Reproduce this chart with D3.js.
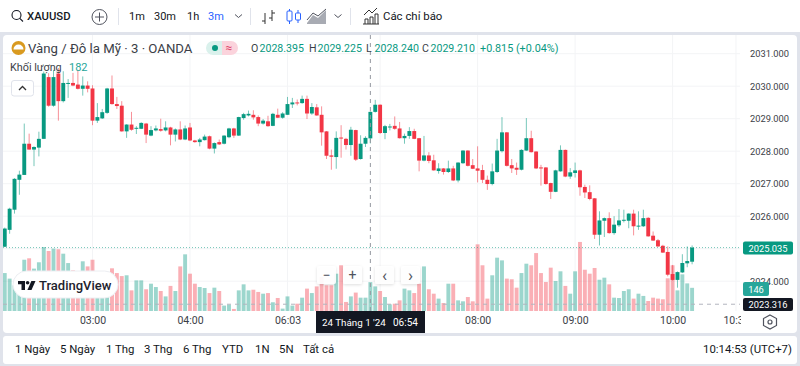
<!DOCTYPE html>
<html>
<head>
<meta charset="utf-8">
<script src="https://cdn.jsdelivr.net/npm/d3@7"></script>
<style>
  html, body { margin: 0; padding: 0; background: #fff; }
  svg { display: block; font-family: Roboto, "Liberation Sans", sans-serif; }
  .tick text { font-family: Roboto, "Liberation Sans", sans-serif; }
</style>
</head>
<body>
<div id="chart"></div>
<script>
// 3 minute candles, first one sits 18 bars before the 03:00 tick
const firstBar = -18;

const opens = [
  2025.06, 2025.58, 2026.20, 2027.12, 2027.27, 2028.23, 2028.05, 2028.11, 2028.38, 2030.28, 2029.40, 2030.39,
  2029.54, 2030.08, 2030.10, 2030.05, 2029.92, 2030.02,
  2029.93, 2028.94, 2029.01, 2029.18, 2029.93, 2029.45, 2029.40, 2028.61, 2028.82, 2028.69, 2028.69, 2028.85,
  2028.48, 2028.64, 2028.68, 2028.64, 2028.73, 2028.51, 2028.67, 2028.36,
  2028.73, 2028.33, 2028.28, 2028.34, 2028.46, 2028.08, 2028.28, 2028.23, 2028.43, 2028.70, 2028.48, 2029.02,
  2029.10, 2029.12, 2029.05, 2028.85, 2028.92, 2028.78, 2029.12, 2029.03,
  2029.12, 2029.44, 2029.50, 2029.48, 2029.61, 2029.16, 2029.35, 2029.12, 2028.61, 2027.87, 2027.82, 2028.42,
  2028.38, 2028.19, 2028.65, 2027.76, 2028.23, 2028.395, 2029.21, 2029.43, 2028.56,
  2028.74, 2028.78, 2028.70, 2028.40, 2028.47, 2028.62, 2028.40, 2027.71, 2027.87, 2027.72, 2027.39, 2027.47,
  2027.36, 2027.47, 2027.10, 2027.63, 2028.02, 2027.57, 2027.47,
  2027.42, 2027.12, 2026.99, 2027.36, 2028.00, 2028.58, 2027.57, 2027.49, 2027.43, 2028.02, 2028.40, 2027.99,
  2027.50, 2027.50, 2027.02, 2026.75, 2027.38, 2028.04, 2027.22, 2027.33,
  2027.41, 2026.90, 2026.74, 2026.55, 2025.43, 2025.86, 2025.94, 2025.48, 2025.72, 2025.86, 2025.86, 2026.08,
  2025.69, 2025.69, 2025.95, 2025.40, 2025.26, 2025.09, 2024.90, 2024.22, 2024.04, 2024.27, 2024.55, 2024.60
];
const highs = [
  2025.65, 2026.26, 2027.17, 2027.40, 2028.85, 2028.54, 2028.15, 2028.60, 2030.45, 2030.40, 2030.50, 2030.56,
  2030.46, 2030.22, 2030.41, 2030.50, 2030.30, 2030.15,
  2030.03, 2029.48, 2029.30, 2029.95, 2030.33, 2029.67, 2029.54, 2028.83, 2029.21, 2028.77, 2028.89, 2028.87,
  2028.77, 2028.79, 2029.00, 2028.92, 2028.75, 2028.70, 2028.92, 2028.79,
  2028.87, 2028.35, 2028.41, 2028.51, 2028.48, 2028.27, 2028.36, 2028.49, 2028.72, 2028.72, 2029.06, 2029.18,
  2029.25, 2029.26, 2029.10, 2028.99, 2029.09, 2029.18, 2029.31, 2029.20,
  2029.67, 2029.64, 2029.59, 2029.71, 2029.71, 2029.48, 2029.45, 2029.38, 2028.62, 2028.05, 2028.61, 2028.80,
  2028.41, 2028.75, 2028.66, 2028.49, 2028.46, 2029.225, 2029.58, 2029.44, 2028.81,
  2028.84, 2029.07, 2028.90, 2028.54, 2028.74, 2028.69, 2028.41, 2028.47, 2027.97, 2027.89, 2027.63, 2027.48,
  2027.71, 2027.55, 2027.66, 2028.03, 2028.03, 2027.76, 2028.15,
  2027.58, 2027.25, 2027.62, 2028.38, 2029.05, 2028.59, 2027.76, 2027.65, 2028.06, 2029.02, 2028.63, 2028.00,
  2027.58, 2027.51, 2027.03, 2027.43, 2028.18, 2028.05, 2027.48, 2027.65,
  2027.43, 2026.97, 2026.95, 2026.56, 2026.15, 2025.96, 2026.12, 2026.00, 2026.22, 2026.20, 2026.09, 2026.20,
  2026.15, 2026.20, 2025.97, 2025.53, 2025.30, 2025.12, 2025.07, 2024.50, 2024.30, 2024.83, 2025.07, 2025.10
];
const lows = [
  2025.05, 2025.46, 2026.08, 2026.66, 2027.27, 2028.05, 2027.54, 2027.84, 2028.38, 2029.37, 2029.37, 2028.94,
  2029.50, 2029.64, 2030.00, 2029.90, 2029.71, 2029.81,
  2028.80, 2028.87, 2028.99, 2029.15, 2029.43, 2029.30, 2028.60, 2028.41, 2028.63, 2028.53, 2028.68, 2028.25,
  2028.46, 2028.61, 2028.60, 2028.61, 2028.18, 2028.30, 2028.34, 2028.34,
  2028.31, 2028.26, 2028.15, 2028.33, 2028.06, 2027.93, 2028.19, 2028.21, 2028.40, 2028.41, 2028.47, 2028.97,
  2029.07, 2028.97, 2028.77, 2028.82, 2028.75, 2028.77, 2029.02, 2029.00,
  2029.12, 2029.33, 2029.41, 2029.46, 2028.99, 2029.12, 2029.09, 2028.17, 2027.76, 2027.43, 2027.46, 2027.80,
  2028.05, 2027.86, 2027.70, 2027.74, 2028.13, 2028.24, 2029.19, 2028.53, 2028.37,
  2028.64, 2028.66, 2028.39, 2028.23, 2028.38, 2028.37, 2027.38, 2027.69, 2027.63, 2027.40, 2027.31, 2027.28,
  2027.33, 2027.08, 2027.04, 2027.61, 2027.53, 2027.45, 2027.04,
  2027.02, 2026.81, 2026.95, 2027.33, 2027.96, 2027.53, 2027.33, 2027.27, 2027.41, 2028.01, 2027.96, 2027.45,
  2026.94, 2026.97, 2026.53, 2026.74, 2027.37, 2027.20, 2027.15, 2027.19,
  2026.63, 2026.56, 2026.49, 2025.30, 2025.10, 2025.36, 2025.46, 2025.43, 2025.67, 2025.81, 2025.63, 2025.41,
  2025.58, 2025.67, 2025.37, 2025.24, 2025.05, 2024.87, 2024.15, 2024.02, 2023.80, 2024.25, 2024.43, 2024.52
];
const closes = [
  2025.62, 2026.23, 2027.15, 2027.28, 2028.23, 2028.05, 2028.13, 2028.38, 2030.39, 2029.40, 2030.28, 2029.54,
  2030.10, 2030.10, 2030.02, 2029.92, 2030.02, 2029.92,
  2028.94, 2029.05, 2029.20, 2029.93, 2029.45, 2029.39, 2028.61, 2028.82, 2028.66, 2028.72, 2028.87, 2028.51,
  2028.65, 2028.70, 2028.63, 2028.73, 2028.51, 2028.67, 2028.36, 2028.70,
  2028.33, 2028.28, 2028.36, 2028.45, 2028.08, 2028.25, 2028.21, 2028.48, 2028.70, 2028.48, 2029.05, 2029.14,
  2029.15, 2029.04, 2028.85, 2028.94, 2028.77, 2029.15, 2029.03, 2029.16,
  2029.45, 2029.50, 2029.47, 2029.61, 2029.16, 2029.36, 2029.10, 2028.58, 2027.86, 2027.83, 2028.41, 2028.39,
  2028.19, 2028.66, 2027.74, 2028.23, 2028.41, 2029.21, 2029.43, 2028.56, 2028.77,
  2028.76, 2028.69, 2028.40, 2028.47, 2028.62, 2028.38, 2027.71, 2027.87, 2027.70, 2027.41, 2027.47, 2027.36,
  2027.47, 2027.10, 2027.65, 2028.02, 2027.55, 2027.46, 2027.40,
  2027.12, 2026.99, 2027.38, 2028.02, 2028.58, 2027.55, 2027.47, 2027.43, 2028.04, 2028.40, 2027.97, 2027.47,
  2027.48, 2026.99, 2026.75, 2027.41, 2028.04, 2027.22, 2027.35, 2027.41,
  2026.89, 2026.73, 2026.53, 2025.43, 2025.87, 2025.94, 2025.48, 2025.74, 2025.87, 2025.89, 2026.08, 2025.69,
  2025.71, 2025.94, 2025.38, 2025.25, 2025.07, 2024.88, 2024.20, 2024.04, 2024.28, 2024.56, 2024.62, 2025.035
];
const volumes = [
  239, 204, 162, 204, 323, 332, 267, 307, 403, 378, 393, 389, 361, 302, 256, 246, 313, 281,
  323, 246, 214, 235, 269, 239, 220, 225, 130, 193, 193, 137, 172, 151, 126, 92, 158, 126, 281, 357,
  235, 172, 151, 145, 113, 147, 126, 34, 40, 13, 130, 168, 130, 134, 120, 109, 113, 55, 82, 15,
  92, 34, 46, 84, 141, 113, 155, 214, 162, 162, 235, 288, 57, 92, 116, 84, 84, 182, 155, 126, 88,
  42, 46, 67, 141, 130, 113, 172, 281, 137, 109, 78, 50, 172, 172, 67, 61, 88, 61,
  420, 288, 78, 225, 336, 319, 204, 200, 147, 239, 298, 288, 365, 239, 183, 273, 189, 250, 158, 109, 250,
  435, 260, 235, 271, 197, 210, 168, 84, 82, 126, 137, 78, 109, 95, 63, 84, 78, 74, 206, 288, 130, 231, 174, 146
];

const priceTicks = [2031, 2030, 2029, 2028, 2027, 2026, 2025, 2024];
const timeTickBars = [0, 20, 40, 59, 79, 99, 119, 132];
const timeTickLabels = ['03:00', '04:00', '06:03', '', '08:00', '09:00', '10:00', '10:30'];

const hoverBar = 57;
const lastPrice = 2025.035;
const hoverPrice = 2023.316;

const periodButtons = [['1m', 129], ['30m', 154], ['1h', 187], ['3m', 208]];
const rangeButtons = [['1 Ngày', 15], ['5 Ngày', 60], ['1 Thg', 106], ['3 Thg', 144], ['6 Thg', 183], ['YTD', 222], ['1N', 255], ['5N', 279], ['Tất cả', 303]];
const ohlcLegend = [['O', '2028.395', 251], ['H', '2029.225', 309], ['L', '2028.240', 366], ['C', '2029.210', 422]];

const width = 800, height = 366;
const plotRight = 740, plotTop = 35, plotBottom = 311;
const upColor = '#089981', downColor = '#f23645', textColor = '#131722', gridColor = '#f3f4f6', lineColor = '#e0e3eb';

const svg = d3.select('#chart').append('svg').attr('width', width).attr('height', height);

// Scales
const x = d3.scaleLinear().domain([0, 119]).range([92.5, 672.6]);
const y = d3.scaleLinear().domain([2031, 2024]).range([53.7, 281.2]);
const yVolume = d3.scaleLinear().domain([0, 441]).range([plotBottom, plotBottom - 70]);

// Page frame
svg.append('rect').attr('width', width).attr('height', height).attr('fill', lineColor);
svg.append('rect').attr('width', width).attr('height', 32).attr('fill', '#fff');
svg.append('rect').attr('x', 3).attr('y', 35).attr('width', 794).attr('height', 298).attr('rx', 4).attr('fill', '#fff');
svg.append('rect').attr('x', 3).attr('y', 336).attr('width', 794).attr('height', 28).attr('rx', 3).attr('fill', '#fff');

const defs = svg.append('defs');
defs.append('clipPath').attr('id', 'plot-clip').append('rect')
  .attr('x', 3).attr('y', plotTop).attr('width', plotRight - 3).attr('height', plotBottom - plotTop);
defs.append('clipPath').attr('id', 'time-clip').append('rect')
  .attr('x', 3).attr('y', plotBottom).attr('width', plotRight - 2).attr('height', 22);
const shadow = defs.append('filter').attr('id', 'soft').attr('x', '-30%').attr('y', '-30%').attr('width', '160%').attr('height', '160%');
shadow.append('feDropShadow').attr('dx', 0).attr('dy', 1).attr('stdDeviation', 1.5).attr('flood-color', '#000').attr('flood-opacity', 0.14);

// Grid
const grid = svg.append('g').attr('clip-path', 'url(#plot-clip)');
grid.selectAll('.grid-h').data(priceTicks).join('line')
  .attr('class', 'grid-h')
  .attr('x1', 3).attr('x2', plotRight)
  .attr('y1', d => y(d)).attr('y2', d => y(d))
  .attr('stroke', gridColor);
grid.selectAll('.grid-v').data(timeTickBars).join('line')
  .attr('class', 'grid-v')
  .attr('x1', d => x(d)).attr('x2', d => x(d))
  .attr('y1', plotTop).attr('y2', plotBottom)
  .attr('stroke', gridColor);

// Bars are built from the value arrays
const bars = opens.map((o, i) => ({
  bar: firstBar + i, open: o, high: highs[i], low: lows[i], close: closes[i], volume: volumes[i], up: closes[i] >= o
}));
const step = x(1) - x(0);

const plot = svg.append('g').attr('clip-path', 'url(#plot-clip)');

plot.selectAll('.volume').data(bars).join('rect')
  .attr('class', 'volume')
  .attr('x', d => x(d.bar) - step * 0.4)
  .attr('width', step * 0.8)
  .attr('y', d => yVolume(d.volume))
  .attr('height', d => plotBottom - yVolume(d.volume))
  .attr('fill', d => d.up ? upColor : downColor)
  .attr('fill-opacity', 0.4);

plot.selectAll('.wick').data(bars).join('line')
  .attr('class', 'wick')
  .attr('x1', d => x(d.bar)).attr('x2', d => x(d.bar))
  .attr('y1', d => y(d.high)).attr('y2', d => y(d.low))
  .attr('stroke', d => d.up ? upColor : downColor)
  .attr('stroke-opacity', 0.55);

plot.selectAll('.body').data(bars).join('rect')
  .attr('class', 'body')
  .attr('x', d => x(d.bar) - step * 0.4)
  .attr('width', step * 0.8)
  .attr('y', d => y(Math.max(d.open, d.close)))
  .attr('height', d => Math.max(1, Math.abs(y(d.open) - y(d.close))))
  .attr('fill', d => d.up ? upColor : downColor);

// Last price and crosshair
plot.append('line')
  .attr('x1', 3).attr('x2', plotRight).attr('y1', y(lastPrice)).attr('y2', y(lastPrice))
  .attr('stroke', upColor).attr('stroke-opacity', 0.55).attr('stroke-dasharray', '1 2');
plot.append('line')
  .attr('x1', 3).attr('x2', plotRight).attr('y1', y(hoverPrice) + 0.8).attr('y2', y(hoverPrice) + 0.8)
  .attr('stroke', '#b2b5be').attr('stroke-dasharray', '4 4');
plot.append('line')
  .attr('x1', x(hoverBar)).attr('x2', x(hoverBar)).attr('y1', plotTop).attr('y2', plotBottom)
  .attr('stroke', '#9598a1').attr('stroke-dasharray', '4 4');

// Axes
const priceAxis = svg.append('g').attr('transform', `translate(${plotRight},0)`)
  .call(d3.axisRight(y).tickValues(priceTicks).tickFormat(d3.format('.3f')).tickSize(0).tickPadding(10));
priceAxis.select('.domain').remove();
priceAxis.selectAll('text').attr('font-size', 9.3).attr('fill', '#3b3e47');

const timeAxisWrap = svg.append('g').attr('clip-path', 'url(#time-clip)');
const timeAxis = timeAxisWrap.append('g').attr('transform', `translate(0,${plotBottom})`)
  .call(d3.axisBottom(x).tickValues(timeTickBars).tickFormat((d, i) => timeTickLabels[i]).tickSize(0).tickPadding(6));
timeAxis.select('.domain').remove();
timeAxis.selectAll('text').attr('font-size', 10.5).attr('fill', '#3b3e47');

// Helper for plain labels
function label(txt, px, py, opts = {}) {
  return svg.append('text').attr('x', px).attr('y', py).text(txt)
    .attr('font-size', opts.size || 11.4)
    .attr('font-weight', opts.weight || 400)
    .attr('fill', opts.fill || textColor)
    .attr('text-anchor', opts.anchor || 'start')
    .attr('dominant-baseline', 'central');
}
function icon(path, stroke = textColor, sw = 1) {
  return svg.append('path').attr('d', path).attr('fill', 'none').attr('stroke', stroke).attr('stroke-width', sw);
}

// Top toolbar
svg.append('circle').attr('cx', 16.5).attr('cy', 15).attr('r', 4.5).attr('fill', 'none').attr('stroke', textColor).attr('stroke-width', 1.1);
icon('M19.8 18.3L23 21.5', textColor, 1.1);
label('XAUUSD', 27, 16, { size: 11.3, weight: 500 });
svg.append('circle').attr('cx', 99.5).attr('cy', 17).attr('r', 7.5).attr('fill', 'none').attr('stroke', '#50535e');
icon('M99.5 12.5V21.5M95 17H104', '#50535e');
periodButtons.forEach(([t, px]) => label(t, px, 16, { size: 11, fill: t === '3m' ? '#2962ff' : textColor }));
[118.5, 250.5, 350.5].forEach(px => icon(`M${px} 8V25`, lineColor));
icon('M235 14.5L238.5 17.5L242 14.5M334.5 14.5L338 17.5L341.5 14.5', '#50535e');
// bar, candle, area icons
icon('M265 13V24M262 21H265M272 10V21M272 13H275M272 18H269', '#333');
icon('M289.5 9V24M298 10V23', '#2962ff');
svg.append('rect').attr('x', 287).attr('y', 11).attr('width', 5).attr('height', 10).attr('rx', 1).attr('fill', '#fff').attr('stroke', '#2962ff');
svg.append('rect').attr('x', 295.5).attr('y', 13).attr('width', 5).attr('height', 7).attr('rx', 1).attr('fill', '#fff').attr('stroke', '#2962ff');
svg.append('path').attr('d', 'M307 23L313 15L318 18L326 10V24H307Z').attr('fill', '#a8abb3');
icon('M307 20L313 13L318 16L326 9', '#50535e');
icon('M364 15L369 10L372 13L377 8M363 24H379M365 24V19H368V24M370 24V17H373V24M375 24V14H378V24', '#333');
label('Các chỉ báo', 383, 16);

// Legend
svg.append('circle').attr('cx', 18.5).attr('cy', 48).attr('r', 7).attr('fill', '#d99a20');
svg.append('path').attr('d', 'M13.5 49.5A5 5 0 0 1 23.5 49.5Z').attr('fill', '#fff');
svg.append('rect').attr('x', 13).attr('y', 50.5).attr('width', 11).attr('height', 1.5).attr('fill', '#d99a20');
label('Vàng / Đô la Mỹ · 3 · OANDA', 28, 48, { size: 13.2, fill: '#3b3e47' });
svg.append('path').attr('d', 'M222 41H213A7 7 0 0 0 213 55H222Z').attr('fill', '#daf1ec');
svg.append('path').attr('d', 'M222 41H231A7 7 0 0 1 231 55H222Z').attr('fill', '#fbd3dc');
svg.append('circle').attr('cx', 215).attr('cy', 48).attr('r', 3).attr('fill', upColor);
label('≈', 229, 47.5, { size: 12, fill: '#e0476b', anchor: 'middle' });
ohlcLegend.forEach(([k, v, px]) => {
  label(k, px, 48, { size: 10.6, fill: '#3b3e47' });
  label(v, px + 8.5, 48, { size: 10.6, fill: upColor });
});
label('+0.815 (+0.04%)', 480, 48, { size: 10.8, fill: upColor });
label('Khối lượng', 10, 67, { size: 10.8, fill: '#3b3e47' });
label('182', 69, 67, { size: 11, fill: '#26a69a' });
svg.append('rect').attr('x', 11.5).attr('y', 80.5).attr('width', 22).attr('height', 15.5).attr('rx', 2.5).attr('fill', '#fff').attr('stroke', lineColor);
icon('M19 90L22.5 86.5L26 90', '#333', 1.3);

// Zoom buttons over the chart
[[317, '−'], [343, '+'], [375, '‹'], [401, '›']].forEach(([px, t]) => {
  svg.append('rect').attr('x', px).attr('y', 266).attr('width', 19).attr('height', 18).attr('rx', 2).attr('fill', '#fff').attr('fill-opacity', 0.92).attr('filter', 'url(#soft)');
  label(t, px + 9.5, 274.5, { size: t === '‹' || t === '›' ? 17 : 14, fill: '#50535e', anchor: 'middle' });
});

// TradingView badge
svg.append('rect').attr('x', 13).attr('y', 271).attr('width', 105).attr('height', 27).attr('rx', 13.5).attr('fill', '#fff').attr('stroke', '#eceef2');
svg.append('path').attr('d', 'M18 281H25V290H21.5V284.2H18Z').attr('fill', textColor);
svg.append('circle').attr('cx', 27.6).attr('cy', 282.8).attr('r', 1.8).attr('fill', textColor);
svg.append('path').attr('d', 'M31.4 281H35.5L31.5 290H27.4Z').attr('fill', textColor);
label('TradingView', 39, 285.5, { size: 13, weight: 500, fill: '#1e222d' });

// Axis tags
svg.append('rect').attr('x', 743).attr('y', y(lastPrice) - 6).attr('width', 50).attr('height', 13).attr('rx', 2).attr('fill', upColor);
label('2025.035', 768, y(lastPrice) + 0.5, { size: 9.3, fill: '#fff', anchor: 'middle' });
svg.append('rect').attr('x', 743).attr('y', 282).attr('width', 26).attr('height', 14).attr('rx', 2).attr('fill', '#26a69a');
label('146', 756, 289, { size: 9.3, fill: '#fff', anchor: 'middle' });
svg.append('rect').attr('x', 743).attr('y', 298).attr('width', 50).attr('height', 13).attr('rx', 2).attr('fill', textColor);
label('2023.316', 768, 304.5, { size: 9.3, fill: '#fff', anchor: 'middle' });

// Crosshair time tag
svg.append('rect').attr('x', 316).attr('y', plotBottom).attr('width', 109).attr('height', 22).attr('fill', textColor);
label("24 Tháng 1 '24", 322, 322, { size: 9.8, fill: '#fff' });
label('06:54', 393, 322, { size: 10, fill: '#fff' });

// Settings hexagon
icon('M770 315L776.5 318.5V325.5L770 329L763.5 325.5V318.5Z', '#50535e', 1.2);
svg.append('circle').attr('cx', 770).attr('cy', 322).attr('r', 2).attr('fill', 'none').attr('stroke', '#50535e').attr('stroke-width', 1.2);

// Bottom toolbar
rangeButtons.forEach(([t, px]) => label(t, px, 349));
label('10:14:53 (UTC+7)', 792, 349, { anchor: 'end' });
</script>
</body>
</html>
